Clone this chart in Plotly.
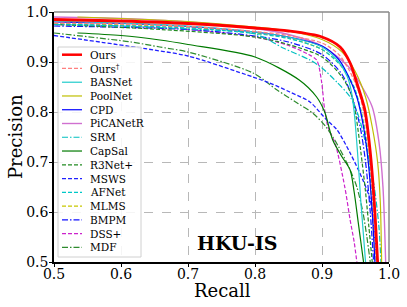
import plotly.graph_objects as go

# ---- data ----
names = ["Ours", "Ours<sup>†</sup>", "BASNet", "PoolNet", "CPD", "PiCANetR", "SRM",
         "CapSal", "R3Net+", "MSWS", "AFNet", "MLMS", "BMPM", "DSS+", "MDF"]

ours_r = [0.5, 0.6, 0.7, 0.8, 0.85, 0.9, 0.927, 0.942, 0.952, 0.964, 0.972, 0.978, 0.983]
ours_p = [0.985, 0.982, 0.977, 0.968, 0.962, 0.95, 0.93, 0.898, 0.858, 0.804, 0.72, 0.62, 0.5]

oursd_r = [0.5, 0.6, 0.7, 0.8, 0.85, 0.9, 0.925, 0.94, 0.955, 0.965, 0.972, 0.977, 0.981]
oursd_p = [0.978, 0.976, 0.971, 0.961, 0.953, 0.938, 0.915, 0.885, 0.84, 0.78, 0.7, 0.6, 0.5]

basnet_r = [0.5, 0.6, 0.7, 0.8, 0.85, 0.9, 0.925, 0.938, 0.944, 0.948, 0.953, 0.958, 0.965]
basnet_p = [0.982, 0.978, 0.972, 0.96, 0.95, 0.93, 0.9, 0.87, 0.84, 0.8, 0.72, 0.62, 0.5]

poolnet_r = [0.535, 0.6, 0.7, 0.8, 0.85, 0.9, 0.93, 0.95, 0.965, 0.975, 0.983, 0.987, 0.989]
poolnet_p = [0.99, 0.987, 0.981, 0.97, 0.962, 0.945, 0.92, 0.88, 0.83, 0.77, 0.7, 0.62, 0.5]

cpd_r = [0.5, 0.6, 0.7, 0.8, 0.85, 0.9, 0.925, 0.94, 0.952, 0.962, 0.969, 0.975, 0.979]
cpd_p = [0.98, 0.977, 0.971, 0.96, 0.95, 0.932, 0.905, 0.87, 0.83, 0.77, 0.7, 0.6, 0.5]

picanet_r = [0.5, 0.6, 0.7, 0.8, 0.85, 0.9, 0.94, 0.96, 0.975, 0.985, 0.991, 0.995]
picanet_p = [0.99, 0.987, 0.98, 0.967, 0.955, 0.932, 0.89, 0.85, 0.81, 0.74, 0.65, 0.5]

srm_r = [0.5, 0.6, 0.7, 0.8, 0.842, 0.882, 0.9, 0.922, 0.942, 0.955, 0.968, 0.978, 0.985, 0.988]
srm_p = [0.975, 0.972, 0.966, 0.956, 0.928, 0.904, 0.888, 0.86, 0.83, 0.79, 0.72, 0.65, 0.57, 0.5]

capsal_r = [0.535, 0.6, 0.658, 0.7, 0.8, 0.866, 0.892, 0.904, 0.916, 0.93, 0.942, 0.948, 0.954, 0.959, 0.962]
capsal_p = [0.958, 0.953, 0.944, 0.935, 0.91, 0.864, 0.83, 0.8, 0.744, 0.71, 0.684, 0.64, 0.58, 0.53, 0.5]

r3net_r = [0.5, 0.66, 0.8, 0.85, 0.9, 0.93, 0.945, 0.951, 0.958, 0.965, 0.97, 0.975]
r3net_p = [0.975, 0.965, 0.95, 0.935, 0.91, 0.87, 0.83, 0.79, 0.72, 0.64, 0.57, 0.5]

msws_r = [0.5, 0.649, 0.7, 0.797, 0.822, 0.852, 0.882, 0.907, 0.922, 0.942, 0.961, 0.972, 0.981, 0.984]
msws_p = [0.953, 0.924, 0.912, 0.87, 0.858, 0.84, 0.82, 0.784, 0.765, 0.718, 0.664, 0.624, 0.52, 0.5]

afnet_r = [0.5, 0.7, 0.8, 0.85, 0.9, 0.93, 0.948, 0.96, 0.968, 0.975, 0.98]
afnet_p = [0.976, 0.968, 0.957, 0.947, 0.925, 0.89, 0.85, 0.79, 0.72, 0.63, 0.5]

mlms_r = [0.5, 0.7, 0.8, 0.85, 0.9, 0.93, 0.95, 0.962, 0.97, 0.975, 0.979]
mlms_p = [0.977, 0.97, 0.958, 0.948, 0.925, 0.89, 0.84, 0.78, 0.7, 0.6, 0.5]

bmpm_r = [0.5, 0.7, 0.8, 0.85, 0.9, 0.93, 0.945, 0.957, 0.965, 0.972, 0.977]
bmpm_p = [0.972, 0.965, 0.952, 0.94, 0.915, 0.875, 0.83, 0.77, 0.7, 0.6, 0.5]

dss_r = [0.5, 0.6, 0.7, 0.8, 0.85, 0.88, 0.892, 0.899, 0.904, 0.909, 0.92, 0.934, 0.942, 0.948, 0.952]
dss_p = [0.975, 0.972, 0.965, 0.95, 0.933, 0.915, 0.904, 0.864, 0.804, 0.77, 0.735, 0.65, 0.584, 0.54, 0.5]

mdf_r = [0.5, 0.615, 0.658, 0.7, 0.797, 0.833, 0.863, 0.886, 0.906, 0.925, 0.942, 0.952, 0.961, 0.967, 0.972]
mdf_p = [0.958, 0.94, 0.93, 0.92, 0.878, 0.844, 0.818, 0.798, 0.77, 0.73, 0.684, 0.65, 0.6, 0.55, 0.5]

x_ticks = [0.5, 0.6, 0.7, 0.8, 0.9, 1.0]
y_ticks = [0.5, 0.6, 0.7, 0.8, 0.9, 1.0]

# ---- styles ----
DASH = "4px,2px"
DDOT = "6px,2px,1.5px,2px"
series = [
    (ours_r, ours_p, "#ff0000", "solid", 2.8),
    (oursd_r, oursd_p, "#ff7f7f", DASH, 1.3),
    (basnet_r, basnet_p, "#22cccc", "solid", 1.2),
    (poolnet_r, poolnet_p, "#bfbf00", "solid", 1.2),
    (cpd_r, cpd_p, "#0000ff", "solid", 1.2),
    (picanet_r, picanet_p, "#d070d0", "solid", 1.4),
    (srm_r, srm_p, "#00c0c0", DDOT, 1.2),
    (capsal_r, capsal_p, "#007a00", "solid", 1.2),
    (r3net_r, r3net_p, "#228b22", DASH, 1.2),
    (msws_r, msws_p, "#2020ff", DASH, 1.3),
    (afnet_r, afnet_p, "#00c8c8", DASH, 1.2),
    (mlms_r, mlms_p, "#c8c800", DASH, 1.2),
    (bmpm_r, bmpm_p, "#1010ff", DDOT, 1.2),
    (dss_r, dss_p, "#cc22cc", DASH, 1.2),
    (mdf_r, mdf_p, "#2e8b2e", DDOT, 1.2),
]

FONT = "DejaVu Serif"
fig = go.Figure()
# draw in reverse so "Ours" is on top
for (r, p, c, d, w), n in reversed(list(zip(series, names))):
    fig.add_trace(go.Scatter(x=r, y=p, mode="lines", name=n, showlegend=False,
                             line=dict(color=c, dash=d, width=w, shape="spline", smoothing=0.8)))

# ---- page geometry ----
W, H = 407, 307
PL, PR, PT, PB = 54, 389, 12, 262          # plot area in window pixels
L, T, R, B = PL, PT, W - PR, H - PB
pw, ph = PR - PL, PB - PT

def px2paper(x, y):
    return (x - PL) / pw, (PB - y) / ph

shapes = []
x0, y0 = px2paper(58, 257)
x1, y1 = px2paper(141, 47)
shapes.append(dict(type="rect", xref="paper", yref="paper", x0=x0, y0=y0, x1=x1, y1=y1,
                   line=dict(color="#d0d0d0", width=1), fillcolor="rgba(255,255,255,0.85)",
                   layer="above"))
annotations = []
for i, ((r, p, c, d, w), n) in enumerate(zip(series, names)):
    ypx = 54.7 + 13.76 * i
    lx0, ly = px2paper(62, ypx)
    lx1, _ = px2paper(82, ypx)
    shapes.append(dict(type="line", xref="paper", yref="paper", x0=lx0, x1=lx1, y0=ly, y1=ly,
                       line=dict(color=c, dash=d, width=w if w < 2 else 2.5), layer="above"))
    tx, _ = px2paper(88, ypx)
    annotations.append(dict(xref="paper", yref="paper", x=tx, y=ly, text=n, showarrow=False,
                            xanchor="left", yanchor="middle", align="left",
                            font=dict(family=FONT, size=10.5, color="#000")))

# top/right frame in gray
shapes.append(dict(type="line", xref="paper", yref="paper", x0=0, x1=1, y0=1, y1=1,
                   line=dict(color="#888888", width=1.5), layer="above"))
shapes.append(dict(type="line", xref="paper", yref="paper", x0=1, x1=1, y0=0, y1=1,
                   line=dict(color="#888888", width=1.5), layer="above"))

hx, hy = px2paper(237, 243)
annotations.append(dict(xref="paper", yref="paper", x=hx, y=hy, text="<b>HKU-IS</b>",
                        showarrow=False, xanchor="center", yanchor="middle",
                        font=dict(family=FONT, size=19, color="#000")))

# axis titles
ax, ay = px2paper(222, 290)
annotations.append(dict(xref="paper", yref="paper", x=ax, y=ay, text="Recall",
                        showarrow=False, xanchor="center", yanchor="middle",
                        font=dict(family=FONT, size=18, color="#000")))
bx, by = px2paper(15, 137)
annotations.append(dict(xref="paper", yref="paper", x=bx, y=by, text="Precision",
                        showarrow=False, xanchor="center", yanchor="middle", textangle=-90,
                        font=dict(family=FONT, size=18, color="#000")))

axis_common = dict(showgrid=True, gridcolor="#b8b8b8", griddash="dash", gridwidth=1,
                   showline=True, linecolor="#000", linewidth=1.5, ticks="outside",
                   ticklen=3, tickcolor="#000", tickformat=".1f", zeroline=False,
                   automargin=False,
                   tickfont=dict(family=FONT, size=14, color="#000"))

fig.update_layout(
    width=W, height=H, margin=dict(l=L, r=R, t=T, b=B, autoexpand=False),
    paper_bgcolor="white", plot_bgcolor="white",
    xaxis=dict(range=[0.5, 1.0], tickvals=x_ticks, ticklabelstandoff=-5, **axis_common),
    yaxis=dict(range=[0.5, 1.0], tickvals=y_ticks, ticklabelstandoff=-2, **axis_common),
    shapes=shapes, annotations=annotations, showlegend=False,
)

fig.write_html("out.html", config={"displayModeBar": False},
               post_script="document.body.style.margin='0px';document.body.style.padding='0px';")
